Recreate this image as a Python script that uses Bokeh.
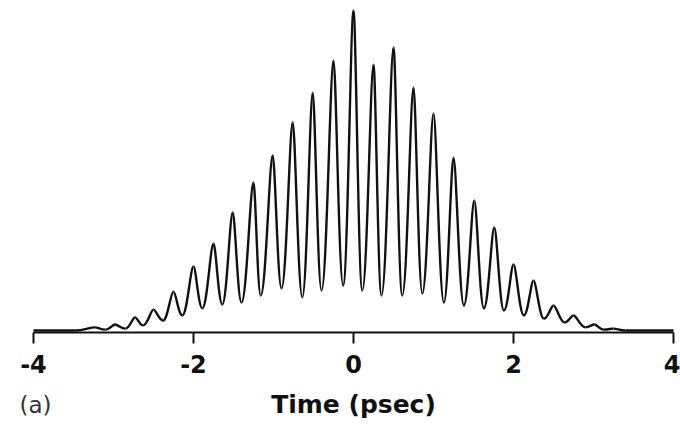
from bokeh.plotting import figure
from bokeh.models import Range1d, FixedTicker, LinearAxis
from bokeh.embed import file_html
from bokeh.resources import INLINE

time_ps = [-4.0, -3.48, -3.23, -3.10, -2.98, -2.85, -2.73, -2.63, -2.50, -2.38,
           -2.25, -2.14, -2.00, -1.89, -1.75, -1.64, -1.51, -1.40, -1.25, -1.16,
           -1.01, -0.90, -0.76, -0.64, -0.51, -0.40, -0.25, -0.13, 0.0, 0.11,
           0.25, 0.35, 0.50, 0.61, 0.75, 0.86, 1.00, 1.13, 1.25, 1.38,
           1.51, 1.63, 1.76, 1.88, 2.00, 2.13, 2.25, 2.38, 2.50, 2.64,
           2.75, 2.90, 3.01, 3.13, 3.25, 3.40, 4.0]
intensity = [0.006, 0.006, 0.016, 0.009, 0.025, 0.012, 0.047, 0.022, 0.071, 0.037,
             0.127, 0.053, 0.205, 0.075, 0.276, 0.087, 0.373, 0.093, 0.466, 0.115,
             0.550, 0.137, 0.652, 0.109, 0.745, 0.130, 0.845, 0.146, 1.000, 0.130,
             0.832, 0.115, 0.885, 0.115, 0.761, 0.121, 0.680, 0.093, 0.543, 0.084,
             0.410, 0.075, 0.326, 0.068, 0.211, 0.053, 0.161, 0.043, 0.084, 0.031,
             0.053, 0.016, 0.025, 0.009, 0.012, 0.006, 0.006]

tick_values = [-4, -2, 0, 2, 4]
tick_labels = {-4: "-4", -2: "-2", 0: "0", 2: "2", 4: "4"}
x_title = "Time (psec)"
panel_tag = "(a)"
panel_tag_x = [-3.975]

p = figure(width=680, height=424, output_backend="svg", toolbar_location=None,
           x_range=Range1d(-4.0875, 4.0875), y_range=Range1d(0, 1.031),
           x_axis_location=None, y_axis_location=None,
           min_border_left=26, min_border_right=0,
           min_border_top=0, min_border_bottom=92)
p.outline_line_color = None
p.grid.visible = False
p.background_fill_color = "white"
p.border_fill_color = "white"

# smooth segments between consecutive extrema (horizontal tangents at extrema)
x0s, y0s, x1s, y1s, cx0s, cy0s, cx1s, cy1s = [], [], [], [], [], [], [], []
for i in range(len(time_ps) - 1):
    xa, ya, xb, yb = time_ps[i], intensity[i], time_ps[i + 1], intensity[i + 1]
    d = xb - xa
    ka = 0.27 if ya > yb else 0.43
    kb = 0.27 if yb > ya else 0.43
    x0s.append(xa); y0s.append(ya); x1s.append(xb); y1s.append(yb)
    cx0s.append(xa + d * ka); cy0s.append(ya)
    cx1s.append(xb - d * kb); cy1s.append(yb)

p.bezier(x0=x0s, y0=y0s, x1=x1s, y1=y1s, cx0=cx0s, cy0=cy0s, cx1=cx1s, cy1=cy1s,
         line_color="#111111", line_width=2.4)


def bare_axis(ax):
    ax.axis_line_color = None
    ax.major_tick_line_color = None
    ax.minor_tick_line_color = None
    ax.major_tick_out = 0
    ax.major_tick_in = 0
    ax.minor_tick_out = 0
    ax.minor_tick_in = 0


# axis 1: rule, ticks and tick labels
ax = LinearAxis(ticker=FixedTicker(ticks=tick_values),
                major_label_overrides=tick_labels, bounds=(-4, 4))
ax.axis_line_width = 2
ax.axis_line_color = "#111111"
ax.major_tick_line_width = 2
ax.major_tick_line_color = "#111111"
ax.major_tick_out = 11
ax.major_tick_in = 0
ax.minor_tick_out = 0
ax.minor_tick_in = 0
ax.major_label_standoff = 11
ax.major_label_text_font = "DejaVu Sans"
ax.major_label_text_font_style = "bold"
ax.major_label_text_font_size = "24px"
ax.major_label_text_color = "#111111"
p.add_layout(ax, "below")

# axis 2: the axis title
ax2 = LinearAxis(ticker=FixedTicker(ticks=[]), bounds=(-4, 4), axis_label=x_title)
bare_axis(ax2)
ax2.axis_label_standoff = 14
ax2.axis_label_text_font = "DejaVu Sans"
ax2.axis_label_text_font_style = "bold"
ax2.axis_label_text_font_size = "25px"
ax2.axis_label_text_color = "#111111"
p.add_layout(ax2, "below")

# axis 3: panel tag "(a)" on the same line as the title
ax3 = LinearAxis(ticker=FixedTicker(ticks=panel_tag_x),
                 major_label_overrides={panel_tag_x[0]: panel_tag})
bare_axis(ax3)
ax3.major_label_standoff = -30
ax3.major_label_text_font = "DejaVu Sans"
ax3.major_label_text_font_style = "normal"
ax3.major_label_text_font_size = "23px"
ax3.major_label_text_color = "#333333"
p.add_layout(ax3, "below")

open("out.html", "w").write(file_html(p, INLINE))
